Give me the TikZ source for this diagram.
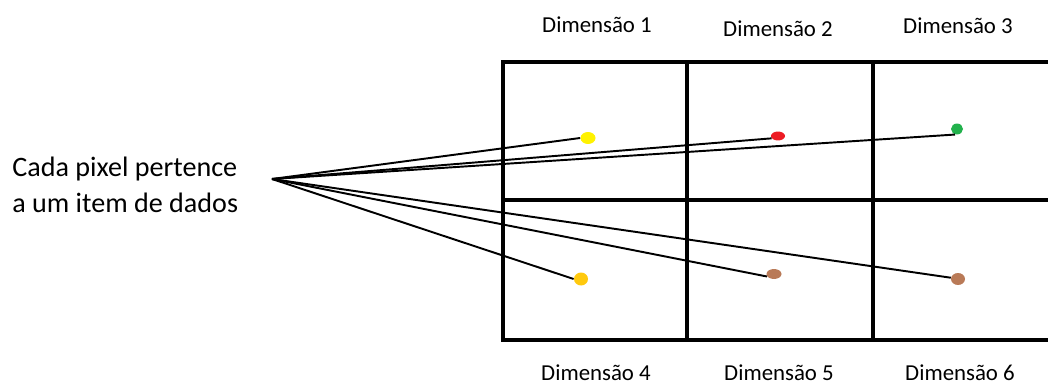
\documentclass[tikz,border=0pt]{standalone}
\usepackage{fontspec}
\setmainfont{Carlito}
\usetikzlibrary{shapes.geometric}

\definecolor{paintyellow}{HTML}{FFF200}
\definecolor{paintred}{HTML}{ED1C24}
\definecolor{paintgreen}{HTML}{22B14C}
\definecolor{paintgold}{HTML}{FFC90E}
\definecolor{paintbrown}{HTML}{B97A57}

\begin{document}
\begin{tikzpicture}[x=0.02cm,y=-0.02cm,
  cellline/.style={line width=2.8pt},
  ray/.style={line width=1.1pt},
  pixel/.style={ellipse,draw=none,inner sep=0pt},
  dimlabel/.style={font=\fontsize{13}{15}\selectfont,inner sep=0pt}]
\useasboundingbox (0,0) rectangle (1048,385);
\clip (0,0) rectangle (1048,385);

% grid of the six dimensions
\draw[cellline] (503,62) rectangle (1070,340);
\draw[cellline] (503,200) -- (1070,200);
\draw[cellline] (687,62) -- (687,340);
\draw[cellline] (873,62) -- (873,340);

% labels
\node[dimlabel] (dim1) at (597,25) {Dimensão 1};
\node[dimlabel] (dim2) at (778,29) {Dimensão 2};
\node[dimlabel] (dim3) at (958,26) {Dimensão 3};
\node[dimlabel] (dim4) at (596,373) {Dimensão 4};
\node[dimlabel] (dim5) at (779,373) {Dimensão 5};
\node[dimlabel] (dim6) at (960,373) {Dimensão 6};

\node[anchor=west,align=left,inner sep=0pt,font=\fontsize{16}{20.5}\selectfont]
  (caption) at (12,185) {Cada pixel pertence\\a um item de dados};
\coordinate (src) at (272,179);

% one pixel in each dimension
\node[pixel,fill=paintyellow,minimum width=0.3cm,minimum height=0.24cm] (p1) at (588,138) {};
\node[pixel,fill=paintred,minimum width=0.28cm,minimum height=0.18cm] (p2) at (778,136) {};
\node[pixel,fill=paintgreen,minimum width=0.24cm,minimum height=0.22cm] (p3) at (957,129) {};
\node[pixel,fill=paintgold,minimum width=0.28cm,minimum height=0.26cm] (p4) at (581,279) {};
\node[pixel,fill=paintbrown,minimum width=0.3cm,minimum height=0.2cm] (p5) at (774,274) {};
\node[pixel,fill=paintbrown,minimum width=0.28cm,minimum height=0.24cm] (p6) at (958,279) {};

\draw[ray] (src) -- (p1.west);
\draw[ray] (src) -- (p2.200);
\draw[ray] (src) -- (p3.250);
\draw[ray] (src) -- (p4.west);
\draw[ray] (src) -- (p5.200);
\draw[ray] (src) -- (p6.170);

\end{tikzpicture}
\end{document}
